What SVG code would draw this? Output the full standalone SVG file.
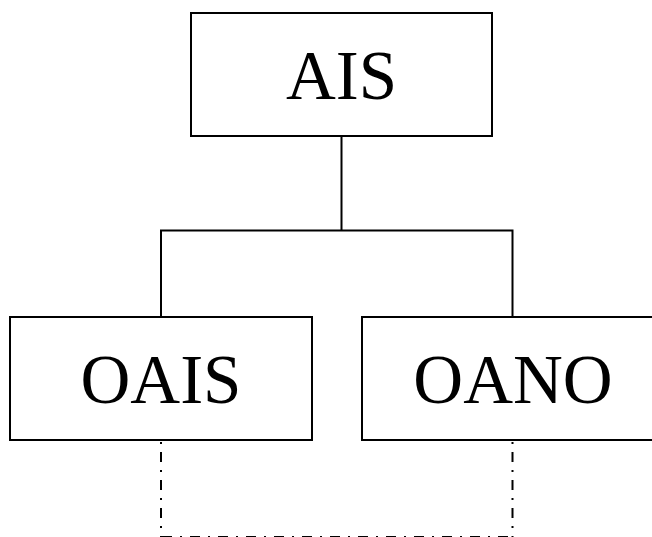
<svg xmlns="http://www.w3.org/2000/svg" width="652" height="537" viewBox="0 0 652 537">
<style>
.box{fill:#fff;stroke:#000;stroke-width:2}
.lbl{font-family:"Liberation Serif","Times New Roman",serif;font-size:69px;fill:#000;text-anchor:middle}
.ln{fill:none;stroke:#000;stroke-width:2}
.dd{fill:none;stroke:#000;stroke-width:2;stroke-dasharray:10 8 2 8}
</style>
<rect width="652" height="537" fill="#fff"/>
<g id="connectors">
<path class="ln" d="M341.5 136 V230.5 M161 318 V230.5 H512.5 V318"/>
<path class="dd" stroke-dashoffset="16" d="M161 440 V537"/>
<path class="dd" stroke-dashoffset="16" d="M512.5 440 V537"/>
<path class="dd" d="M162 537 H516"/>
</g>
<g id="AIS">
<rect class="box" x="191" y="13" width="301" height="123"/>
<text class="lbl" x="341.5" y="99">AIS</text>
</g>
<g id="OAIS">
<rect class="box" x="10" y="317" width="302" height="123"/>
<text class="lbl" x="161" y="403">OAIS</text>
</g>
<g id="OANO">
<rect class="box" x="362" y="317" width="302" height="123"/>
<text class="lbl" x="513" y="403">OANO</text>
</g>
</svg>
